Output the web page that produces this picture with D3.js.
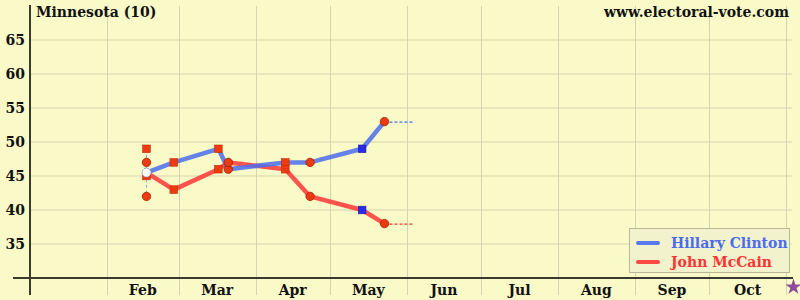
<!DOCTYPE html>
<html><head><meta charset="utf-8">
<script src="https://cdn.jsdelivr.net/npm/d3@7"></script>
<style>body{margin:0;background:#fafac8;} svg{display:block;}</style>
</head><body>
<svg id="c" width="800" height="300"></svg>
<script>
// ---- data ----
const title = "Minnesota (10)";
const site = "www.electoral-vote.com";
const pollDates = ["2008-02-17","2008-02-28","2008-03-17","2008-03-21","2008-04-13","2008-04-23","2008-05-14","2008-05-23"];
const clinton = [45.5, 47, 49, 46, 47, 47, 49, 53];
const mccain  = [45.5, 43, 46, 47, 46, 42, 40, 38];
const pollShapes = ["tie","square","square","circle","square","circle","bsquare","circle"];
// extra individual polls on the first date
const extraDates = ["2008-02-17","2008-02-17","2008-02-17","2008-02-17"];
const extraValues = [49, 47, 45, 42];
const extraShapes = ["square","circle","square","circle"];
const todayDate = "2008-06-04";
const electionDate = "2008-11-04";
const monthStarts = ["2008-02-01","2008-03-01","2008-04-01","2008-05-01","2008-06-01","2008-07-01","2008-08-01","2008-09-01","2008-10-01","2008-11-01"];
const monthLabels = ["Feb","Mar","Apr","May","Jun","Jul","Aug","Sep","Oct"];
const yTicks = [35,40,45,50,55,60,65];
const seriesNames = ["Hillary Clinton","John McCain"];
const seriesColors = ["#4a6cf0","#ff3535"];

// ---- chart ----
const parse = d3.timeParse("%Y-%m-%d");
const svg = d3.select("#c");
const font = "'DejaVu Serif', serif";
const x = d3.scaleTime().domain([parse("2008-01-01"), parse("2008-11-01")]).range([30, 786]);
const y = d3.scaleLinear().domain([30, 70]).range([278, 6]);

svg.append("rect").attr("width",800).attr("height",300).attr("fill","#fafac8");

// grid
const g = svg.append("g");
g.selectAll("line.h").data(yTicks).join("line")
  .attr("x1",30).attr("x2",792).attr("y1",d=>y(d)).attr("y2",d=>y(d))
  .attr("stroke","#d4d4b0").attr("stroke-width",1);
g.selectAll("line.v").data(monthStarts).join("line")
  .attr("x1",d=>Math.round(x(parse(d)))+0.5).attr("x2",d=>Math.round(x(parse(d)))+0.5)
  .attr("y1",y(70)).attr("y2",295)
  .attr("stroke","#d4d4b0").attr("stroke-width",1);

// axes
svg.append("line").attr("x1",13).attr("x2",793).attr("y1",y(30)).attr("y2",y(30)).attr("stroke","#3a3a30").attr("stroke-width",2);
svg.append("line").attr("x1",30).attr("x2",30).attr("y1",5).attr("y2",295).attr("stroke","#3a3a30").attr("stroke-width",2);

// y labels
svg.selectAll("text.yl").data(yTicks).join("text")
  .attr("x",25).attr("y",d=>y(d)).attr("dy","0.36em").attr("text-anchor","end")
  .attr("font-family",font).attr("font-weight","bold").attr("font-size",14).attr("fill","#111")
  .text(d=>d);

// month labels
svg.selectAll("text.ml").data(monthLabels).join("text")
  .attr("x",(d,i)=> (x(parse(monthStarts[i])) + x(parse(monthStarts[i+1])))/2)
  .attr("y",295).attr("text-anchor","middle")
  .attr("font-family",font).attr("font-weight","bold").attr("font-size",14).attr("fill","#111")
  .text(d=>d);

// titles
svg.append("text").attr("x",36).attr("y",17).attr("font-family",font).attr("font-weight","bold").attr("font-size",14).attr("fill","#111").text(title);
svg.append("text").attr("x",789).attr("y",17).attr("text-anchor","end").attr("font-family",font).attr("font-weight","bold").attr("font-size",14).attr("fill","#111").text(site);

// dashed vertical spread on first date
const ev = extraValues;
svg.append("line").attr("x1",x(parse(extraDates[0]))).attr("x2",x(parse(extraDates[0])))
  .attr("y1",y(d3.max(ev))).attr("y2",y(d3.min(ev)))
  .attr("stroke","#8fa4e8").attr("stroke-width",1).attr("stroke-dasharray","3,3");

// dashed extensions to today
[clinton, mccain].forEach((s,i)=>{
  const last = s[s.length-1];
  svg.append("line").attr("x1",x(parse(pollDates[pollDates.length-1]))).attr("x2",x(parse(todayDate)))
    .attr("y1",y(last)+0.5).attr("y2",y(last)+0.5)
    .attr("stroke",seriesColors[i]).attr("stroke-width",1.3).attr("stroke-dasharray","3,2");
});

// lines
const line = d3.line().x((d,i)=>x(parse(pollDates[i]))).y(d=>y(d));
[mccain, clinton].forEach((s,k)=>{
  const i = k===0?1:0;
  svg.append("path").attr("d",line(s)).attr("fill","none")
    .attr("stroke",seriesColors[i]).attr("stroke-width",4.5).attr("stroke-opacity",0.85)
    .attr("stroke-linejoin","round").attr("stroke-linecap","round");
});

// markers
function marker(sel, cx, cy, shape){
  if(shape==="circle"){
    sel.append("circle").attr("cx",cx).attr("cy",cy).attr("r",4.2).attr("fill","#ee3a10").attr("stroke","#a02000").attr("stroke-width",0.8);
  } else if(shape==="square" || shape==="bsquare"){
    const blue = shape==="bsquare";
    sel.append("rect").attr("x",cx-3.8).attr("y",cy-3.8).attr("width",7.6).attr("height",7.6)
      .attr("fill",blue?"#2a2ae8":"#ee3a10").attr("stroke",blue?"#1a1aa0":"#c02a00").attr("stroke-width",0.6);
  } else if(shape==="tie"){
    sel.append("circle").attr("cx",cx).attr("cy",cy).attr("r",4.5).attr("fill","#ffffff").attr("stroke","#8090c0").attr("stroke-width",1).attr("stroke-dasharray","2,1");
  }
}
const mk = svg.append("g");
extraDates.forEach((d,i)=> marker(mk, x(parse(d)), y(extraValues[i]), extraShapes[i]));
pollDates.forEach((d,i)=>{
  if(pollShapes[i]==="tie"){ marker(mk, x(parse(d)), y(clinton[i]), "tie"); return; }
  marker(mk, x(parse(d)), y(clinton[i]), pollShapes[i]);
  marker(mk, x(parse(d)), y(mccain[i]), pollShapes[i]);
});

// election star
const star = d3.symbol().type(d3.symbolStar).size(80);
svg.append("path").attr("d",star()).attr("transform",`translate(${x(parse(electionDate))},${y(30)+9})`).attr("fill","#8e4a9e");

// legend
const lg = svg.append("g");
lg.append("rect").attr("x",629.5).attr("y",228.5).attr("width",160).attr("height",44)
  .attr("fill","#f2f2cc").attr("stroke","#b8b898").attr("stroke-width",1);
seriesNames.forEach((n,i)=>{
  const yy = 243 + i*19;
  lg.append("line").attr("x1",638).attr("x2",658).attr("y1",yy).attr("y2",yy)
    .attr("stroke",seriesColors[i]).attr("stroke-width",4).attr("stroke-linecap","round").attr("stroke-opacity",0.9);
  lg.append("text").attr("x",671).attr("y",yy+5).attr("font-family",font).attr("font-weight","bold").attr("font-size",14)
    .attr("fill",seriesColors[i]).text(n);
});
</script>
</body></html>
